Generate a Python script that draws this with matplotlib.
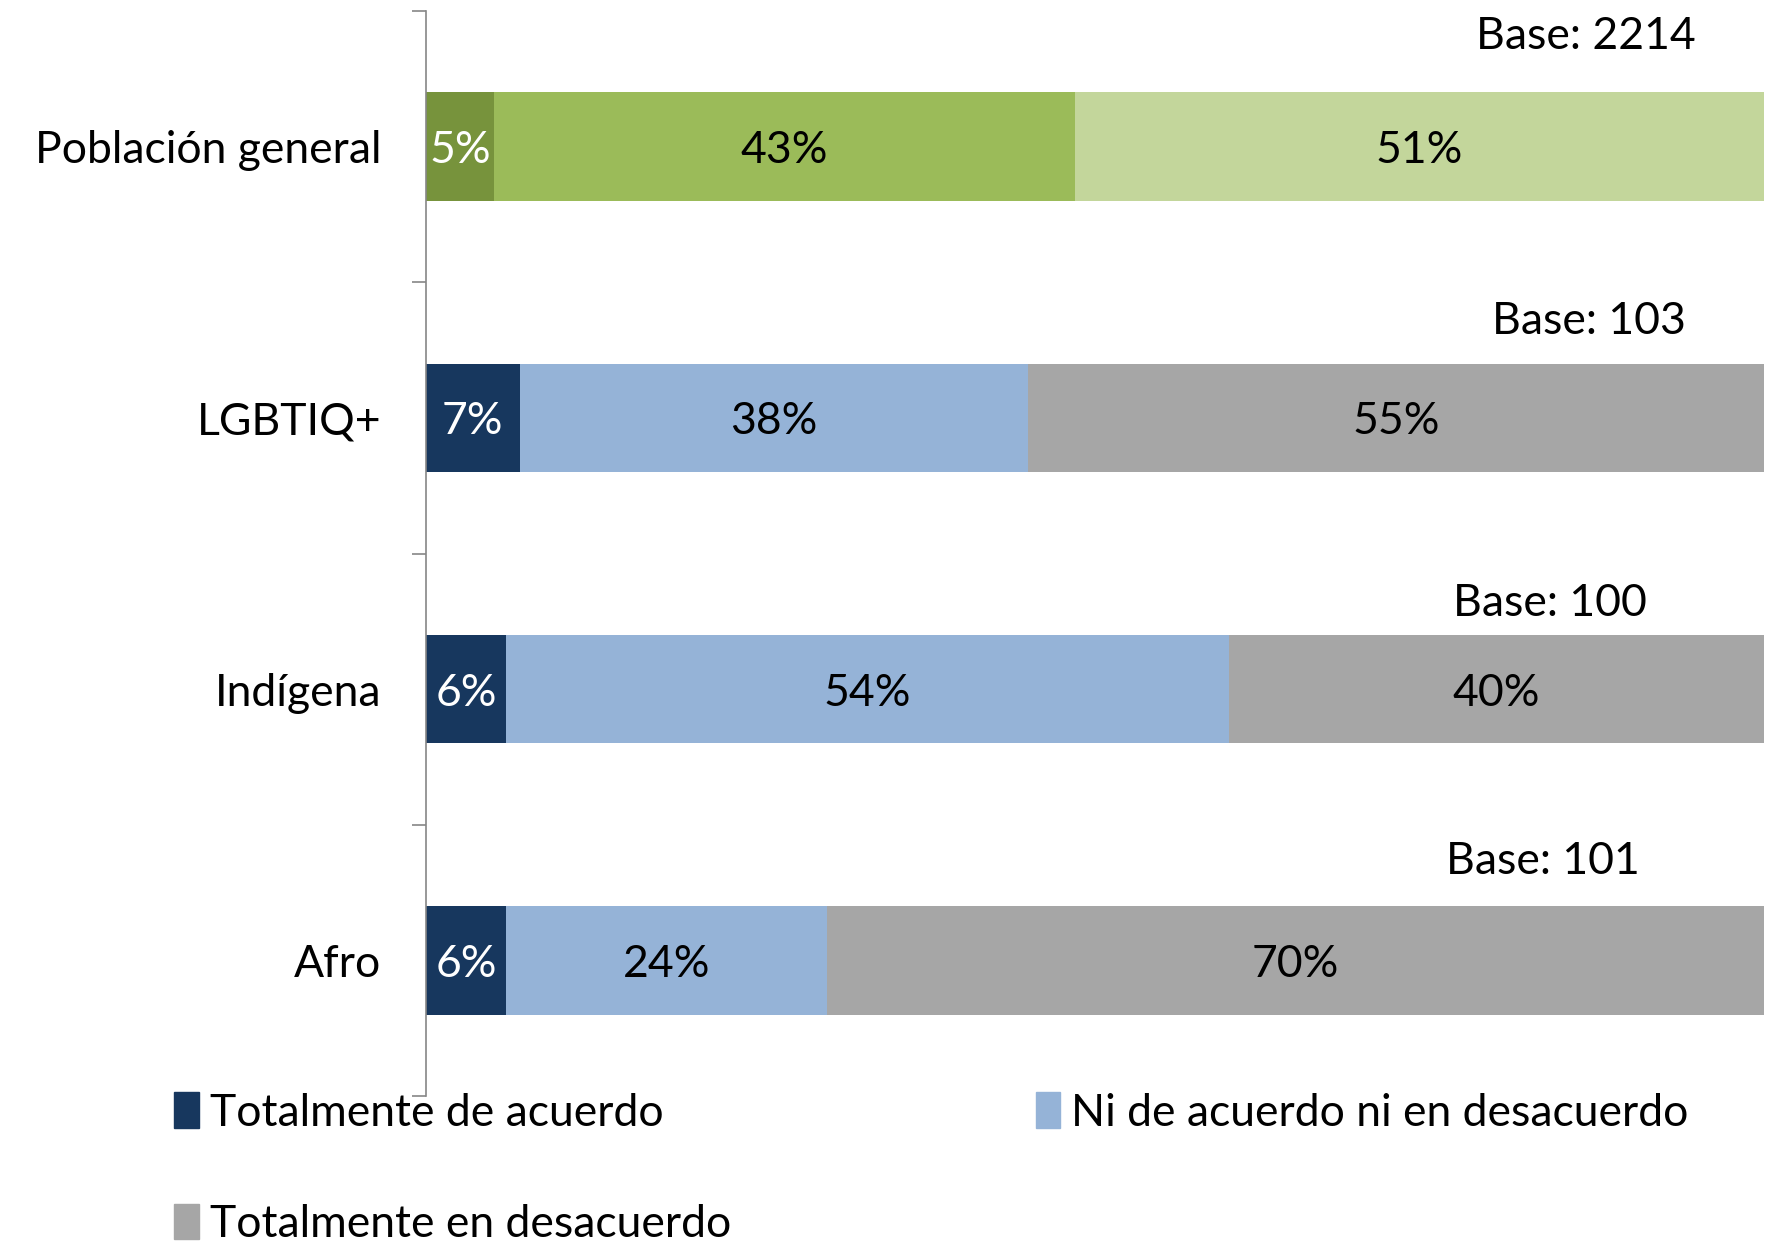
import matplotlib.pyplot as plt
from matplotlib.patches import Patch
import numpy as np

# data
categories = ['Población general', 'LGBTIQ+', 'Indígena', 'Afro']
de_acuerdo = [5, 7, 6, 6]
ni_ni = [43, 38, 54, 24]
desacuerdo = [51, 55, 40, 70]
bases = [2214, 103, 100, 101]
legend_labels = ['Totalmente de acuerdo', 'Ni de acuerdo ni en desacuerdo',
                 'Totalmente en desacuerdo']

# colours: first row is green, the rest blue/grey
colors_general = ['#77933C', '#9BBB59', '#C3D69B']
colors_other = ['#17375E', '#95B3D7', '#A6A6A6']
label_colors = ['white', 'black', 'black']

# where the "Base" text boxes sit (x in axis fraction, y offset in category units)
base_x = [0.867, 0.869, 0.840, 0.835]
base_dy = [0.42, 0.37, 0.33, 0.38]

plt.rcParams['font.family'] = ['Lato', 'DejaVu Sans']
FS = 32

fig = plt.figure(figsize=(17.67, 12.47), dpi=100)
ax = fig.add_axes([0.2411, 0.121, 0.7572, 0.8702])

series = np.array([de_acuerdo, ni_ni, desacuerdo], dtype=float)
totals = series.sum(axis=0)
shares = series / totals
y = np.arange(len(categories))

left = np.zeros(len(categories))
for k in range(3):
    for i in range(len(categories)):
        col = colors_general[k] if i == 0 else colors_other[k]
        ax.barh(y[i], shares[k, i], left=left[i], height=0.4, color=col,
                edgecolor='none')
        ax.text(left[i] + shares[k, i] / 2, y[i], f'{int(series[k, i])}%',
                ha='center', va='center_baseline', fontsize=FS,
                color=label_colors[k])
    left += shares[k]

for i, b in enumerate(bases):
    ax.text(base_x[i], y[i] - base_dy[i], f'Base: {b}', ha='center',
            va='center_baseline', fontsize=FS, color='black')

ax.set_xlim(0, 1)
ax.set_ylim(len(categories) - 0.5, -0.5)
ax.set_yticks(y)
ax.set_yticklabels(categories, fontsize=FS)
ax.tick_params(axis='y', which='major', length=0, pad=32)
ax.set_yticks(np.arange(len(categories) + 1) - 0.5, minor=True)
ax.tick_params(axis='y', which='minor', length=10, width=1.2, color='#868686')
ax.set_xticks([])
for s in ['top', 'right', 'bottom']:
    ax.spines[s].set_visible(False)
ax.spines['left'].set_color('#868686')
ax.spines['left'].set_linewidth(1.2)

handles = [Patch(color=c) for c in colors_other]
# column-major fill, so reorder to get row-wise layout
order = [0, 2, 1]
fig.legend([handles[j] for j in order], [legend_labels[j] for j in order],
           ncol=2, loc='upper left', bbox_to_anchor=(0.076, 0.156),
           frameon=False, fontsize=FS, handlelength=0.55, handleheight=0.85,
           handletextpad=0.25, columnspacing=6.85, labelspacing=1.58)

fig.savefig('out.png', dpi=100)
